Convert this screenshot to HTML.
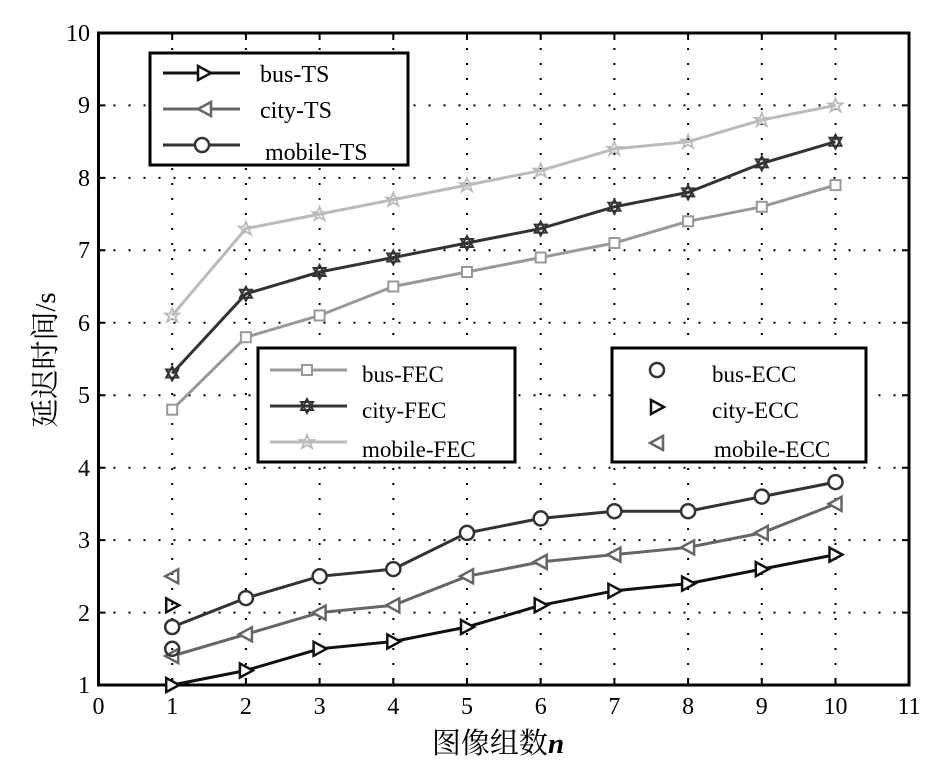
<!DOCTYPE html>
<html><head><meta charset="utf-8"><style>
body{margin:0;background:#fff}
text{font-family:"Liberation Serif","Noto Serif CJK SC",serif;fill:#000}
</style></head><body>
<svg width="951" height="778" viewBox="0 0 951 778" xmlns="http://www.w3.org/2000/svg">
<defs>
<marker id="tr" markerUnits="userSpaceOnUse" markerWidth="20" markerHeight="20" refX="10" refY="10" viewBox="0 0 20 20" overflow="visible"><path d="M4,3 L17,10 L4,17 Z" fill="#fff" stroke="#111" stroke-width="2.5"/></marker>
<marker id="tl" markerUnits="userSpaceOnUse" markerWidth="20" markerHeight="20" refX="10" refY="10" viewBox="0 0 20 20" overflow="visible"><path d="M16,3 L3,10 L16,17 Z" fill="#fff" stroke="#666" stroke-width="2.5"/></marker>
<marker id="ci" markerUnits="userSpaceOnUse" markerWidth="20" markerHeight="20" refX="10" refY="10" viewBox="0 0 20 20" overflow="visible"><circle cx="10" cy="10" r="7" fill="#fff" stroke="#333" stroke-width="2.5"/></marker>
<marker id="sq" markerUnits="userSpaceOnUse" markerWidth="20" markerHeight="20" refX="10" refY="10" viewBox="0 0 20 20" overflow="visible"><rect x="5" y="5" width="10" height="10" fill="#fff" stroke="#999" stroke-width="2"/></marker>
<marker id="hx" markerUnits="userSpaceOnUse" markerWidth="20" markerHeight="20" refX="10" refY="10" viewBox="0 0 20 20" overflow="visible"><path d="M10,3 L16,14 L4,14 Z M10,17 L16,6 L4,6 Z" fill="none" stroke="#333" stroke-width="2"/></marker>
<marker id="st" markerUnits="userSpaceOnUse" markerWidth="20" markerHeight="20" refX="10" refY="10" viewBox="0 0 20 20" overflow="visible"><path d="M10,3 L12,8 L17,8 L13,11 L15,16 L10,13 L5,16 L7,11 L3,8 L8,8 Z" fill="none" stroke="#bbb" stroke-width="1.8"/></marker>
</defs>
<rect x="0" y="0" width="951" height="778" fill="#fff"/>
<g stroke="#000" stroke-width="2" stroke-dasharray="2 13" fill="none">
<path d="M172.2,33V685M245.9,33V685M319.6,33V685M393.3,33V685M467,33V685M540.7,33V685M614.4,33V685M688.1,33V685M761.8,33V685M835.5,33V685"/>
<path d="M98.5,612.6H909M98.5,540.1H909M98.5,467.7H909M98.5,395.2H909M98.5,322.8H909M98.5,250.3H909M98.5,177.9H909M98.5,105.4H909"/>
</g>
<g stroke="#000" stroke-width="2">
<path d="M172.2,685v-7M245.9,685v-7M319.6,685v-7M393.3,685v-7M467,685v-7M540.7,685v-7M614.4,685v-7M688.1,685v-7M761.8,685v-7M835.5,685v-7"/>
<path d="M172.2,33v7M245.9,33v7M319.6,33v7M393.3,33v7M467,33v7M540.7,33v7M614.4,33v7M688.1,33v7M761.8,33v7M835.5,33v7"/>
<path d="M98.5,612.6h7M98.5,540.1h7M98.5,467.7h7M98.5,395.2h7M98.5,322.8h7M98.5,250.3h7M98.5,177.9h7M98.5,105.4h7"/>
<path d="M909,612.6h-7M909,540.1h-7M909,467.7h-7M909,395.2h-7M909,322.8h-7M909,250.3h-7M909,177.9h-7M909,105.4h-7"/>
</g>
<rect x="98.5" y="33" width="810.5" height="652" fill="none" stroke="#000" stroke-width="3"/>
<g fill="none" stroke-width="3">
<polyline stroke="#bbb" marker-start="url(#st)" marker-mid="url(#st)" marker-end="url(#st)" points="172.2,315.5 245.9,228.6 319.6,214.1 393.3,199.6 467,185.1 540.7,170.6 614.4,148.9 688.1,141.7 761.8,119.9 835.5,105.4"/>
<polyline stroke="#333" marker-start="url(#hx)" marker-mid="url(#hx)" marker-end="url(#hx)" points="172.2,373.5 245.9,293.8 319.6,272 393.3,257.5 467,243 540.7,228.6 614.4,206.8 688.1,192.4 761.8,163.4 835.5,141.7"/>
<polyline stroke="#999" marker-start="url(#sq)" marker-mid="url(#sq)" marker-end="url(#sq)" points="172.2,409.7 245.9,337.2 319.6,315.5 393.3,286.5 467,272 540.7,257.5 614.4,243 688.1,221.3 761.8,206.8 835.5,185.1"/>
<polyline stroke="#333" marker-start="url(#ci)" marker-mid="url(#ci)" marker-end="url(#ci)" points="172.2,627 245.9,598.1 319.6,576.3 393.3,569.1 467,532.9 540.7,518.4 614.4,511.2 688.1,511.2 761.8,496.6 835.5,482.1"/>
<polyline stroke="#666" marker-start="url(#tl)" marker-mid="url(#tl)" marker-end="url(#tl)" points="172.2,656 245.9,634.3 319.6,612.6 393.3,605.3 467,576.3 540.7,561.9 614.4,554.6 688.1,547.4 761.8,532.9 835.5,503.9"/>
<polyline stroke="#111" marker-start="url(#tr)" marker-mid="url(#tr)" marker-end="url(#tr)" points="172.2,685 245.9,670.5 319.6,648.8 393.3,641.5 467,627 540.7,605.3 614.4,590.8 688.1,583.6 761.8,569.1 835.5,554.6"/>
</g>
<g transform="translate(172.2,648.8)"><circle r="7" fill="none" stroke="#333" stroke-width="2.5"/></g>
<g transform="translate(162.2,595.3)"><path d="M4,3 L17,10 L4,17 Z" fill="none" stroke="#111" stroke-width="2.5"/></g>
<g transform="translate(162.2,566.3)"><path d="M16,3 L3,10 L16,17 Z" fill="none" stroke="#666" stroke-width="2.5"/></g>
<rect x="150" y="53" width="258" height="112" fill="#fff" stroke="#000" stroke-width="3"/>
<g stroke-width="3" fill="none">
<path d="M163,73H240" stroke="#111"/><path d="M198,66 L211,73 L198,80 Z" fill="#fff" stroke="#111" stroke-width="2.5"/>
<path d="M163,109H240" stroke="#666"/><path d="M211,102 L198,109 L211,116 Z" fill="#fff" stroke="#666" stroke-width="2.5"/>
<path d="M163,145H240" stroke="#333"/><circle cx="202" cy="145" r="7" fill="#fff" stroke="#333" stroke-width="2.5"/>
</g>
<text x="260" y="82" font-size="24">bus-TS</text>
<text x="260" y="118" font-size="24">city-TS</text>
<text x="265" y="160" font-size="24">mobile-TS</text>
<rect x="258" y="348" width="257" height="114" fill="#fff" stroke="#000" stroke-width="3"/>
<g stroke-width="3" fill="none">
<path d="M270,370H347" stroke="#999"/><rect x="302" y="365" width="10" height="10" fill="#fff" stroke="#999" stroke-width="2"/>
<path d="M270,406H347" stroke="#333"/><path d="M307,399 L313,410 L301,410 Z M307,413 L313,402 L301,402 Z" stroke="#333" stroke-width="2"/>
<path d="M270,442H347" stroke="#bbb"/><path d="M307,435 L309,440 L314,440 L310,443 L312,448 L307,445 L302,448 L304,443 L300,440 L305,440 Z" stroke="#bbb" stroke-width="1.8"/>
</g>
<text x="362" y="382" font-size="23">bus-FEC</text>
<text x="362" y="418" font-size="23">city-FEC</text>
<text x="362" y="457" font-size="23">mobile-FEC</text>
<rect x="612" y="348" width="254" height="114" fill="#fff" stroke="#000" stroke-width="3"/>
<circle cx="657" cy="370" r="7" fill="none" stroke="#333" stroke-width="2.5"/>
<path d="M651,400 L664,407 L651,414 Z" fill="none" stroke="#111" stroke-width="2.5"/>
<path d="M663,436 L650,443 L663,450 Z" fill="none" stroke="#666" stroke-width="2.5"/>
<text x="712" y="382" font-size="23">bus-ECC</text>
<text x="712" y="418" font-size="23">city-ECC</text>
<text x="714" y="457" font-size="23">mobile-ECC</text>
<g font-size="24" text-anchor="middle">
<text x="98.5" y="714">0</text><text x="172.2" y="714">1</text><text x="245.9" y="714">2</text><text x="319.6" y="714">3</text><text x="393.3" y="714">4</text><text x="467" y="714">5</text><text x="540.7" y="714">6</text><text x="614.4" y="714">7</text><text x="688.1" y="714">8</text><text x="761.8" y="714">9</text><text x="835.5" y="714">10</text><text x="909" y="714">11</text>
</g>
<g font-size="24" text-anchor="end">
<text x="90" y="693">1</text><text x="90" y="621">2</text><text x="90" y="548">3</text><text x="90" y="476">4</text><text x="90" y="403">5</text><text x="90" y="331">6</text><text x="90" y="258">7</text><text x="90" y="186">8</text><text x="90" y="113">9</text><text x="90" y="41">10</text>
</g>
<text x="498" y="753" font-size="29" text-anchor="middle">图像组数<tspan font-style="italic" font-weight="bold">n</tspan></text>
<text transform="translate(55,360) rotate(-90)" font-size="29" text-anchor="middle">延迟时间/s</text>
</svg>
</body></html>
